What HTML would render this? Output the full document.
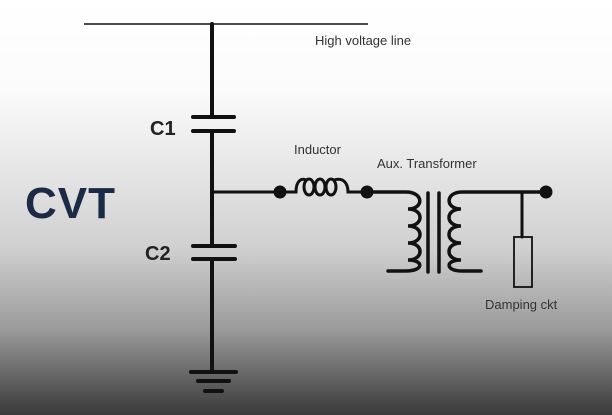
<!DOCTYPE html>
<html><head><style>
html,body{margin:0;padding:0;}
body{width:612px;height:415px;overflow:hidden;background:linear-gradient(to bottom,#ffffff 0px,#fbfbfb 90px,#e6e6e6 170px,#cfcfcf 250px,#9a9a9a 330px,#4a4a4a 400px,#3a3a3a 415px);}
svg{position:absolute;left:0;top:0;}
</style></head><body>
<svg width="612" height="415" xmlns="http://www.w3.org/2000/svg" font-family="Liberation Sans, sans-serif">
<g stroke="#111" fill="none" stroke-linecap="round">
<line x1="84" y1="24" x2="368" y2="24" stroke-width="1.6" stroke-linecap="butt"/>
<line x1="212" y1="24" x2="212" y2="117" stroke-width="4"/>
<line x1="212" y1="131" x2="212" y2="245" stroke-width="4"/>
<line x1="212" y1="259" x2="212" y2="372" stroke-width="4"/>
<line x1="193" y1="117" x2="234" y2="117" stroke-width="4"/>
<line x1="193" y1="131" x2="234" y2="131" stroke-width="4"/>
<line x1="193" y1="246" x2="235" y2="246" stroke-width="4"/>
<line x1="193" y1="259" x2="235" y2="259" stroke-width="4"/>
<line x1="191" y1="372" x2="236" y2="372" stroke-width="4"/>
<line x1="198" y1="381" x2="229" y2="381" stroke-width="4"/>
<line x1="205" y1="391" x2="222" y2="391" stroke-width="4"/>
<line x1="212" y1="192" x2="280" y2="192" stroke-width="3"/>
<path d="M280 192 H296 C296 180 302 178 306 180" stroke-width="3"/>
<ellipse cx="309" cy="187" rx="5" ry="8" stroke-width="3"/>
<ellipse cx="320" cy="187" rx="5" ry="8" stroke-width="3"/>
<ellipse cx="331" cy="187" rx="5" ry="8" stroke-width="3"/>
<path d="M334 180 C344 177 348 184 348 192 H367" stroke-width="3"/>
<path d="M367 192 H406 C424 192 424 209 408 209 C424 209 424 226 408 226 C424 226 424 243 408 243 C424 243 424 260 408 260 C424 260 424 271 406 271 H388" stroke-width="3.5"/>
<line x1="428" y1="193" x2="428" y2="272" stroke-width="3.5"/>
<line x1="439" y1="193" x2="439" y2="272" stroke-width="3.5"/>
<path d="M545 192 H462 C445 192 445 209 461 209 C445 209 445 226 461 226 C445 226 445 243 461 243 C445 243 445 260 461 260 C445 260 445 271 462 271 H481" stroke-width="3.5"/>
<line x1="522" y1="192" x2="522" y2="237" stroke-width="3"/>
<rect x="514" y="237" width="18" height="50" stroke-width="1.8"/>
</g>
<g fill="#111">
<circle cx="280" cy="192" r="6.5"/>
<circle cx="367" cy="192" r="6.5"/>
<circle cx="546" cy="192" r="6.5"/>
</g>
<text x="25" y="218" font-size="44" font-weight="bold" fill="#1b2a45" letter-spacing="1">CVT</text>
<text x="150" y="135" font-size="20" font-weight="bold" fill="#222">C1</text>
<text x="145" y="260" font-size="20" font-weight="bold" fill="#222">C2</text>
<text x="315" y="45" font-size="13" fill="#333">High voltage line</text>
<text x="294" y="154" font-size="13" fill="#333">Inductor</text>
<text x="377" y="168" font-size="13" fill="#333">Aux. Transformer</text>
<text x="485" y="309" font-size="13" fill="#333">Damping ckt</text>
</svg>
</body></html>
